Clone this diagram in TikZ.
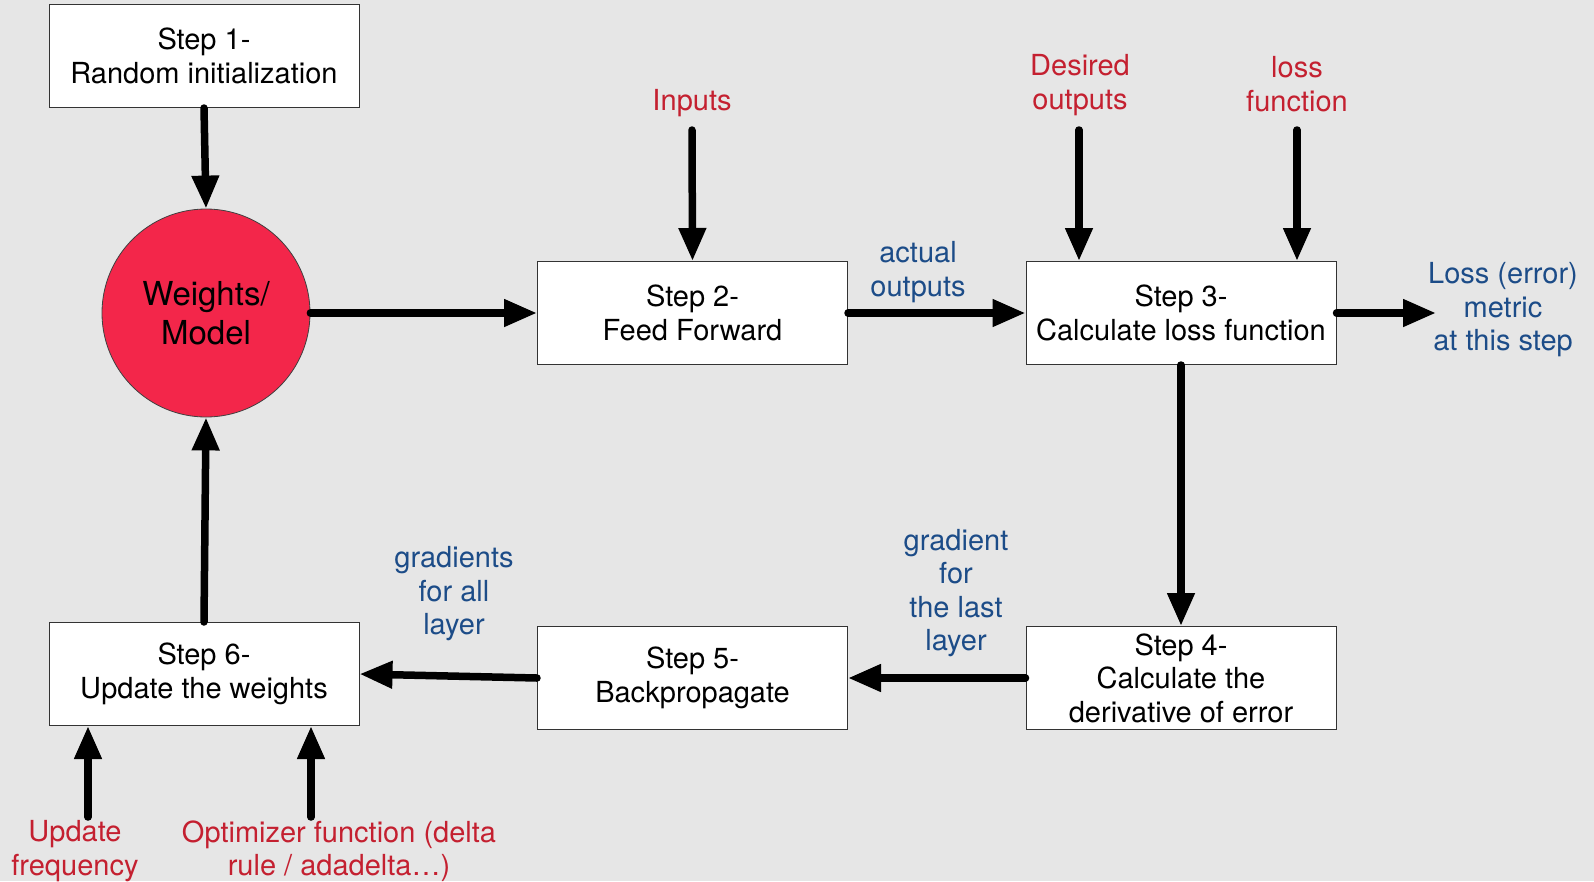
\documentclass[tikz,border=0pt]{standalone}
\usepackage{fontspec}
\setmainfont{TeX Gyre Heros}
\usetikzlibrary{arrows.meta}
\definecolor{bgray}{RGB}{230,230,230}
\definecolor{modelred}{RGB}{243,38,74}
\definecolor{lblred}{RGB}{196,32,48}
\definecolor{lblblue}{RGB}{28,76,136}
\begin{document}
\begin{tikzpicture}[x=1pt,y=-1pt,
  txt/.style={font=\fontsize{29}{33.5}\selectfont, align=center, inner sep=0pt},
  stepbox/.style={txt, draw=black!80, line width=1pt, fill=white,
    minimum width=310pt, minimum height=103pt},
  redlbl/.style={txt, text=lblred},
  bluelbl/.style={txt, text=lblblue},
  flow/.style={line width=7.5pt, line cap=round,
    -{Triangle[length=33pt,width=26pt]}}]
\fill[bgray] (0,0) rectangle (1594,881);
\useasboundingbox (0,0) rectangle (1594,881);

% process boxes
\node[stepbox] (s1) at (204,56) {Step 1-\\Random initialization};
\node[stepbox] (s2) at (692.5,313) {Step 2-\\Feed Forward};
\node[stepbox] (s3) at (1181,313) {Step 3-\\Calculate loss function};
\node[stepbox] (s4) at (1181,678) {Step 4-\\Calculate the\\derivative of error};
\node[stepbox] (s5) at (692.5,678) {Step 5-\\Backpropagate};
\node[stepbox] (s6) at (204,674) {Step 6-\\Update the weights};

% model
\node[circle, draw=black!75, line width=0.8pt, fill=modelred, minimum size=208pt,
  inner sep=0pt, align=center, font=\fontsize{33}{39}\selectfont] (wm) at (206,313)
  {Weights/\\Model};

% labels
\node[redlbl] (inp) at (692,103) {Inputs};
\node[redlbl] (des) at (1080,85) {Desired\\outputs};
\node[redlbl] (lfn) at (1297,84) {loss\\function};
\node[redlbl] (upf) at (75,851) {Update\\frequency};
\node[redlbl] (opt) at (339,851) {Optimizer function (delta\\rule / adadelta…)};
\node[bluelbl] (act) at (918,272) {actual\\outputs};
\node[bluelbl] (lmet) at (1503,310) {Loss (error)\\metric\\at this step};
\node[bluelbl] (glast) at (956,593) {gradient\\for\\the last\\layer};
\node[bluelbl] (gall) at (454,594) {gradients\\for all\\layer};

% free ends of the input arrows
\coordinate (cinp) at (692,130);
\coordinate (cdes) at (1079,130);
\coordinate (clfn) at (1297,130);
\coordinate (cout) at (1436,313);
\coordinate (cupf) at (88,817);
\coordinate (copt) at (311,817);

% connectors
\draw[flow] (s1.south) -- (wm.north);
\draw[flow] (wm.east) -- (s2.west);
\draw[flow] (cinp) -- (s2.north);
\draw[flow] (s2.east) -- (s3.west);
\draw[flow] (cdes) -- (cdes |- s3.north);
\draw[flow] (clfn) -- (clfn |- s3.north);
\draw[flow] (s3.east) -- (cout);
\draw[flow] (s3.south) -- (s4.north);
\draw[flow] (s4.west) -- (s5.east);
\draw[flow] (s5.west) -- (s6.east);
\draw[flow] (s6.north) -- (wm.south);
\draw[flow] (cupf) -- (cupf |- s6.south);
\draw[flow] (copt) -- (copt |- s6.south);
\end{tikzpicture}
\end{document}
